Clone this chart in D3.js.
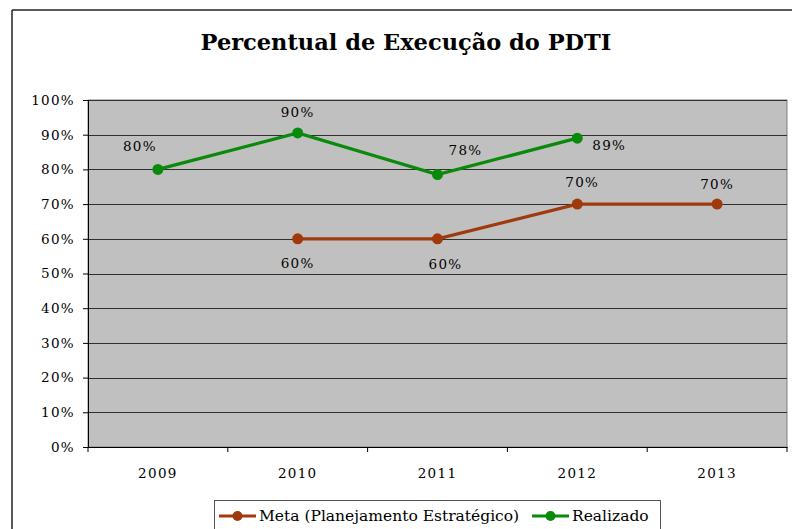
<!DOCTYPE html>
<html><head><meta charset="utf-8">
<script src="https://cdn.jsdelivr.net/npm/d3@7"></script>
<style>body{margin:0;background:#fff}svg{display:block}</style>
</head><body>
<script>
const categories = ["2009","2010","2011","2012","2013"];
const metaValues = [null,60,60,70,70];
const realizadoValues = [80,90.5,78.5,89,null];
const realizadoLabels = ["80%","90%","78%","89%",null];
const metaLabels = [null,"60%","60%","70%","70%"];
const yTicks = [0,10,20,30,40,50,60,70,80,90,100];
const seriesNames = ["Meta (Planejamento Estratégico)","Realizado"];

const W=792,H=529;
const svg=d3.select("body").append("svg").attr("width",W).attr("height",H);
const font="'DejaVu Serif', serif";

// outer frame lines
svg.append("line").attr("x1",12).attr("x2",12).attr("y1",10).attr("y2",H).attr("stroke","#222").attr("stroke-width",1.5);
svg.append("line").attr("x1",12).attr("x2",W).attr("y1",10).attr("y2",10).attr("stroke","#222").attr("stroke-width",1.5);

const L=88,R=787,T=100,B=447;
const x=d3.scaleBand().domain(categories).range([L,R]);
const y=d3.scaleLinear().domain([0,100]).range([B,T]);

svg.append("text").attr("x",406).attr("y",50).attr("text-anchor","middle")
  .attr("font-family",font).attr("font-weight","bold").attr("font-size",22.5).attr("fill","#000")
  .text("Percentual de Execução do PDTI");

svg.append("rect").attr("x",L).attr("y",T).attr("width",R-L).attr("height",B-T)
  .attr("fill","#c0c0c0").attr("stroke","#808080").attr("stroke-width",1);

// gridlines
svg.append("g").selectAll("line").data(yTicks.slice(1)).join("line")
  .attr("x1",L).attr("x2",R).attr("y1",d=>Math.round(y(d))+0.5).attr("y2",d=>Math.round(y(d))+0.5)
  .attr("stroke","#303030").attr("stroke-width",1);

// y axis
const yAxis=d3.axisLeft(y).tickValues(yTicks).tickFormat(d=>d+"%").tickSize(5).tickPadding(8);
const gy=svg.append("g").attr("transform",`translate(${L},0)`).call(yAxis);
gy.selectAll("text").attr("font-family",font).attr("font-size",13.5).attr("fill","#000").attr("letter-spacing","1.3px");
gy.selectAll("line,path").attr("stroke","#000");

// x axis
const xAxis=d3.axisBottom(x).tickSize(0).tickPadding(21);
const gx=svg.append("g").attr("transform",`translate(0,${B})`).call(xAxis);
gx.select("path").attr("stroke","#000").attr("stroke-width",1.2);
gx.selectAll("text").attr("font-family",font).attr("font-size",13.5).attr("fill","#000").attr("letter-spacing","1.3px");
gx.selectAll(".tk").data(d3.range(categories.length+1)).join("line").attr("class","tk")
  .attr("x1",i=>L+i*x.step()).attr("x2",i=>L+i*x.step()).attr("y1",0).attr("y2",5).attr("stroke","#000");

const cx=c=>x(c)+x.bandwidth()/2;
const line=d3.line().defined(d=>d.v!=null).x(d=>cx(d.c)).y(d=>y(d.v));

function drawSeries(vals,color){
  const data=categories.map((c,i)=>({c,v:vals[i]}));
  svg.append("path").datum(data).attr("d",line).attr("fill","none").attr("stroke",color).attr("stroke-width",3.2);
  svg.append("g").selectAll("circle").data(data.filter(d=>d.v!=null)).join("circle")
    .attr("cx",d=>cx(d.c)).attr("cy",d=>y(d.v)).attr("r",5.5).attr("fill",color);
}
drawSeries(metaValues,"#a03a0c");
drawSeries(realizadoValues,"#0a8a0a");

// data labels (offsets relative to point, baseline)
const rOff=[[-18,-18],[0,-16],[28,-20],[32,12],null];
const mOff=[null,[0,29],[8,30],[5,-17],[0,-15]];
function labels(vals,labs,offs){
  categories.forEach((c,i)=>{
    if(vals[i]==null)return;
    svg.append("text").attr("x",cx(c)+offs[i][0]).attr("y",y(vals[i])+offs[i][1])
      .attr("text-anchor","middle").attr("font-family",font).attr("font-size",13.5)
      .attr("letter-spacing","1.3px").attr("fill","#000").text(labs[i]);
  });
}
labels(realizadoValues,realizadoLabels,rOff);
labels(metaValues,metaLabels,mOff);

// legend
const lg=svg.append("g");
lg.append("rect").attr("x",214.5).attr("y",500.5).attr("width",446).attr("height",40).attr("fill","#fff").attr("stroke","#555");
const items=[{name:seriesNames[0],color:"#a03a0c",x:219},{name:seriesNames[1],color:"#0a8a0a",x:532}];
items.forEach(it=>{
  lg.append("line").attr("x1",it.x).attr("x2",it.x+37).attr("y1",516).attr("y2",516).attr("stroke",it.color).attr("stroke-width",3.2);
  lg.append("circle").attr("cx",it.x+18.5).attr("cy",516).attr("r",5).attr("fill",it.color);
  lg.append("text").attr("x",it.x+40).attr("y",521).attr("font-family",font).attr("font-size",15.5).attr("fill","#000").text(it.name);
});
</script>
</body></html>
